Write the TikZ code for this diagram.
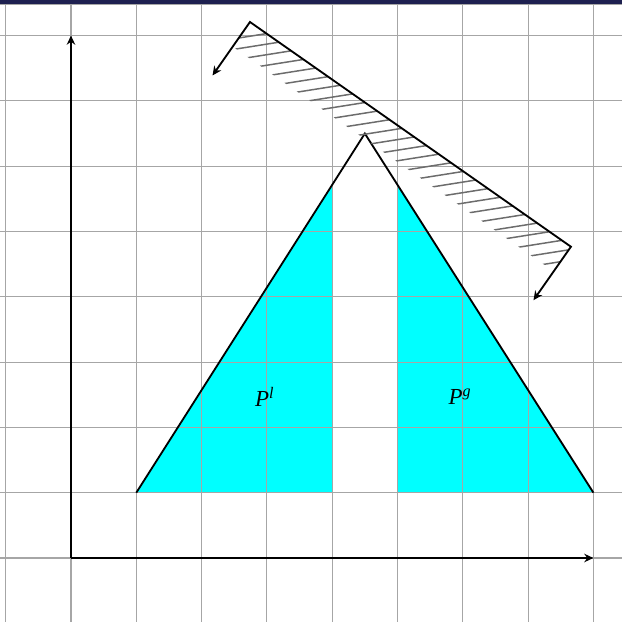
\documentclass[tikz,border=0pt]{standalone}
\usepackage{fontspec}
\setmainfont{Liberation Serif}
\usetikzlibrary{arrows.meta,calc}
\definecolor{topband}{RGB}{30,32,80}
\definecolor{aqua}{RGB}{0,255,255}
\begin{document}
\begin{tikzpicture}[
  gridline/.style={draw=gray!70, line width=0.5pt},
  outline/.style={draw=black, line width=0.8pt},
  tip/.style={-{Stealth[length=1.4mm,width=1.3mm]}},
  hatchline/.style={draw=gray!85!black, line width=0.65pt},
  lab/.style={inner sep=1pt, font=\itshape}
]
\useasboundingbox (-1.087,-0.965) rectangle (8.438,8.545);
\begin{scope}
\clip (-1.087,-0.965) rectangle (8.438,8.545);
% shaded regions
\coordinate (L) at (1,1);
\coordinate (R) at (8,1);
\coordinate (T) at (4.5,6.5);
\coordinate (LT) at ($(L)!{3/3.5}!(T)$);
\coordinate (RT) at ($(R)!{3/3.5}!(T)$);
\fill[aqua] (L) -- (4,1) -- (LT) -- cycle;
\fill[aqua] (5,1) -- (R) -- (RT) -- cycle;
% grid
\draw[gridline] (-2,-2) grid (10,10);
\draw[gridline] (-1.2,8.472) -- (8.6,8.472);
\fill[topband] (-1.2,8.49) rectangle (8.6,8.6);
\end{scope}
% triangle
\draw[outline] (L) -- (T) -- (R);
% axes
\coordinate (O) at (0,0);
\coordinate (ytip) at (0,8);
\coordinate (xtip) at (8,0);
\draw[outline,tip] (O) -- (ytip);
\draw[outline,tip] (O) -- (xtip);
% hatched wall
\coordinate (A) at (2.741,8.208);
\coordinate (B) at ($(A)+(-35:6)$);
\coordinate (Ad) at ($(A)+(-125:1)$);
\coordinate (Bd) at ($(B)+(-125:1)$);
\coordinate (A2) at ($(A)+(-125:0.46)$);
\coordinate (B2) at ($(B)+(-125:0.46)$);
\begin{scope}
\clip (A) -- (B) -- (B2) -- (A2) -- cycle;
\foreach \i in {0,...,28}
  \draw[hatchline] ($(A)+(-35:{0.31+0.23*\i})$) -- ++(189:1.5);
\end{scope}
\draw[outline,{Stealth[length=1.4mm,width=1.3mm]}-{Stealth[length=1.4mm,width=1.3mm]}] (Ad) -- (A) -- (B) -- (Bd);
% labels
\node[lab] (pl) at (2.97,2.47) {P\textsuperscript{l}};
\node[lab] (pg) at (5.96,2.47) {P\textsuperscript{g}};
\end{tikzpicture}
\end{document}
